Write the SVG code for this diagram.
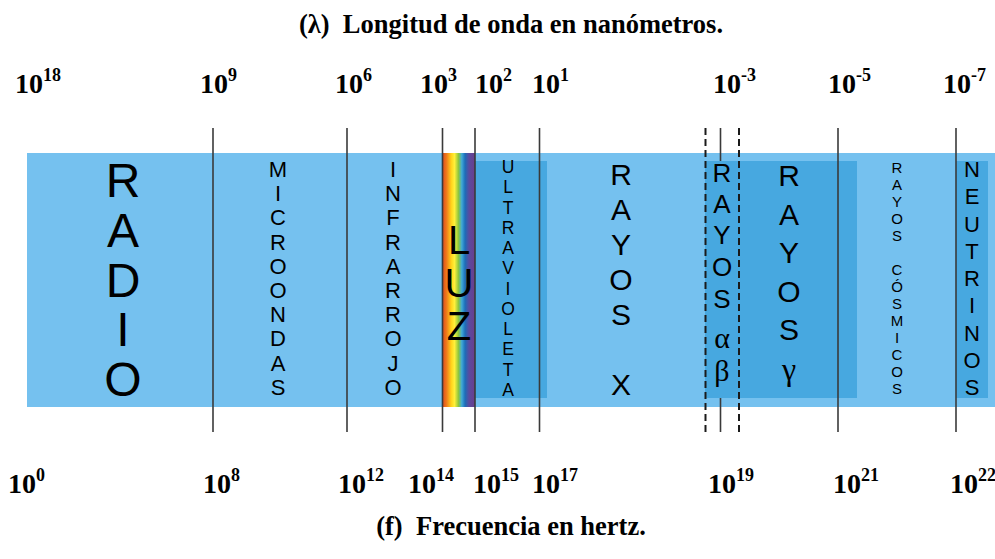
<svg xmlns="http://www.w3.org/2000/svg" width="995" height="559" viewBox="0 0 995 559">
<style>
.ttl{font-family:"Liberation Serif","Times New Roman",serif;font-weight:bold;font-size:26.5px;fill:#000;text-anchor:middle}
.num{font-family:"Liberation Serif","Times New Roman",serif;font-weight:bold;font-size:28px;fill:#000}
.sup{font-size:18px}
.lbl{font-family:"Liberation Sans",Arial,sans-serif;fill:#000;text-anchor:middle}
.grk{font-family:"Liberation Serif","Times New Roman",serif}
.light{fill:#75C1EF}
.dark{fill:#47A8E0}
.axis{stroke:#3a3a3a;stroke-width:1.6;fill:none}
.dash{stroke:#1a1a1a;stroke-width:2;stroke-dasharray:7,4;fill:none}
</style>
<defs>
<linearGradient id="rainbow" x1="0" y1="0" x2="1" y2="0">
<stop offset="0" stop-color="#D9441E"/>
<stop offset="0.14" stop-color="#F07C1A"/>
<stop offset="0.28" stop-color="#FFD21A"/>
<stop offset="0.38" stop-color="#FFF03A"/>
<stop offset="0.5" stop-color="#8CC63F"/>
<stop offset="0.6" stop-color="#3FA9D8"/>
<stop offset="0.7" stop-color="#1C6DB8"/>
<stop offset="0.82" stop-color="#5B4A9E"/>
<stop offset="1" stop-color="#6A3D8C"/>
</linearGradient>
</defs>
<rect width="995" height="559" fill="#fff"/>
<text class="ttl" x="511" y="33" xml:space="preserve">(λ)  Longitud de onda en nanómetros.</text>
<text class="ttl" x="511" y="535" xml:space="preserve">(f)  Frecuencia en hertz.</text>

<g id="band">
<rect class="light" x="27" y="153" width="968" height="254"/>
</g>
<line class="axis" x1="720.5" y1="128" x2="720.5" y2="432"/>
<g id="darkboxes">
<rect class="dark" x="475" y="161" width="72" height="237"/>
<rect class="dark" x="705" y="161" width="152" height="237"/>
<rect class="dark" x="956" y="161" width="32" height="237"/>
</g>
<rect id="luz-spectrum" x="442" y="153" width="33" height="254" fill="url(#rainbow)"/>

<g id="connectors">
<line class="axis" x1="213" y1="128" x2="213" y2="432"/>
<line class="axis" x1="347" y1="128" x2="347" y2="432"/>
<line class="axis" x1="442.5" y1="128" x2="442.5" y2="432"/>
<line class="axis" x1="475" y1="128" x2="475" y2="432"/>
<line class="axis" x1="539.5" y1="128" x2="539.5" y2="432"/>
<line class="axis" x1="838" y1="128" x2="838" y2="432"/>
<line class="axis" x1="956" y1="128" x2="956" y2="432"/>
<line class="dash" x1="705.5" y1="128" x2="705.5" y2="432"/>
<line class="dash" x1="739" y1="128" x2="739" y2="432"/>
</g>

<g id="radio"><text class="lbl" font-size="48" x="123"><tspan x="123" y="197">R</tspan><tspan x="123" y="247">A</tspan><tspan x="123" y="297">D</tspan><tspan x="123" y="346">I</tspan><tspan x="123" y="396">O</tspan></text></g>
<g id="microondas"><text class="lbl" font-size="22" x="278"><tspan x="278" y="177">M</tspan><tspan x="278" y="201">I</tspan><tspan x="278" y="225">C</tspan><tspan x="278" y="250">R</tspan><tspan x="278" y="274">O</tspan><tspan x="278" y="298">O</tspan><tspan x="278" y="322">N</tspan><tspan x="278" y="346">D</tspan><tspan x="278" y="371">A</tspan><tspan x="278" y="395">S</tspan></text></g>
<g id="infrarrojo"><text class="lbl" font-size="22" x="393"><tspan x="393" y="177">I</tspan><tspan x="393" y="201">N</tspan><tspan x="393" y="225">F</tspan><tspan x="393" y="250">R</tspan><tspan x="393" y="274">A</tspan><tspan x="393" y="298">R</tspan><tspan x="393" y="322">R</tspan><tspan x="393" y="346">O</tspan><tspan x="393" y="371">J</tspan><tspan x="393" y="395">O</tspan></text></g>
<g id="luz"><text class="lbl" font-size="40" x="459"><tspan x="459" y="254">L</tspan><tspan x="459" y="297">U</tspan><tspan x="459" y="340">Z</tspan></text></g>
<g id="ultravioleta"><text class="lbl" font-size="17.5" x="508"><tspan x="508" y="173">U</tspan><tspan x="508" y="193">L</tspan><tspan x="508" y="214">T</tspan><tspan x="508" y="234">R</tspan><tspan x="508" y="254">A</tspan><tspan x="508" y="274">V</tspan><tspan x="508" y="295">I</tspan><tspan x="508" y="315">O</tspan><tspan x="508" y="335">L</tspan><tspan x="508" y="355">E</tspan><tspan x="508" y="376">T</tspan><tspan x="508" y="396">A</tspan></text></g>
<g id="rayos-x"><text class="lbl" font-size="30" x="621"><tspan x="621" y="185">R</tspan><tspan x="621" y="220">A</tspan><tspan x="621" y="255">Y</tspan><tspan x="621" y="290">O</tspan><tspan x="621" y="325">S</tspan><tspan x="621" y="395">X</tspan></text></g>
<g id="rayos-alfa-beta"><text class="lbl" font-size="26" x="722"><tspan x="722" y="182">R</tspan><tspan x="722" y="213">A</tspan><tspan x="722" y="244">Y</tspan><tspan x="722" y="276">O</tspan><tspan x="722" y="308">S</tspan><tspan class="grk" font-size="30" x="722" y="348">α</tspan><tspan class="grk" font-size="30" x="722" y="381">β</tspan></text></g>
<g id="rayos-gamma"><text class="lbl" font-size="30" x="789"><tspan x="789" y="186">R</tspan><tspan x="789" y="225">A</tspan><tspan x="789" y="263">Y</tspan><tspan x="789" y="302">O</tspan><tspan x="789" y="340">S</tspan><tspan class="grk" font-size="32" x="789" y="380">γ</tspan></text></g>
<g id="rayos-cosmicos"><text class="lbl" font-size="15" x="897"><tspan x="897" y="173">R</tspan><tspan x="897" y="190">A</tspan><tspan x="897" y="207">Y</tspan><tspan x="897" y="224">O</tspan><tspan x="897" y="241">S</tspan><tspan x="897" y="275">C</tspan><tspan x="897" y="292">Ó</tspan><tspan x="897" y="309">S</tspan><tspan x="897" y="326">M</tspan><tspan x="897" y="343">I</tspan><tspan x="897" y="360">C</tspan><tspan x="897" y="377">O</tspan><tspan x="897" y="394">S</tspan></text></g>
<g id="neutrinos"><text class="lbl" font-size="22" x="972"><tspan x="972" y="177">N</tspan><tspan x="972" y="204">E</tspan><tspan x="972" y="232">U</tspan><tspan x="972" y="259">T</tspan><tspan x="972" y="286">R</tspan><tspan x="972" y="313">I</tspan><tspan x="972" y="341">N</tspan><tspan x="972" y="368">O</tspan><tspan x="972" y="395">S</tspan></text></g>

<g id="wavelength-labels">
<text class="num" x="15" y="93">10<tspan class="sup" dy="-12">18</tspan></text>
<text class="num" x="200" y="93">10<tspan class="sup" dy="-12">9</tspan></text>
<text class="num" x="335" y="93">10<tspan class="sup" dy="-12">6</tspan></text>
<text class="num" x="420" y="93">10<tspan class="sup" dy="-12">3</tspan></text>
<text class="num" x="475" y="93">10<tspan class="sup" dy="-12">2</tspan></text>
<text class="num" x="532" y="93">10<tspan class="sup" dy="-12">1</tspan></text>
<text class="num" x="713" y="93">10<tspan class="sup" dy="-12">-3</tspan></text>
<text class="num" x="828" y="93">10<tspan class="sup" dy="-12">-5</tspan></text>
<text class="num" x="943" y="93">10<tspan class="sup" dy="-12">-7</tspan></text>
</g>
<g id="frequency-labels">
<text class="num" x="8" y="493">10<tspan class="sup" dy="-12">0</tspan></text>
<text class="num" x="203" y="493">10<tspan class="sup" dy="-12">8</tspan></text>
<text class="num" x="338" y="493">10<tspan class="sup" dy="-12">12</tspan></text>
<text class="num" x="408" y="493">10<tspan class="sup" dy="-12">14</tspan></text>
<text class="num" x="473" y="493">10<tspan class="sup" dy="-12">15</tspan></text>
<text class="num" x="532" y="493">10<tspan class="sup" dy="-12">17</tspan></text>
<text class="num" x="708" y="493">10<tspan class="sup" dy="-12">19</tspan></text>
<text class="num" x="833" y="493">10<tspan class="sup" dy="-12">21</tspan></text>
<text class="num" x="950" y="493">10<tspan class="sup" dy="-12">22</tspan></text>
</g>
</svg>
